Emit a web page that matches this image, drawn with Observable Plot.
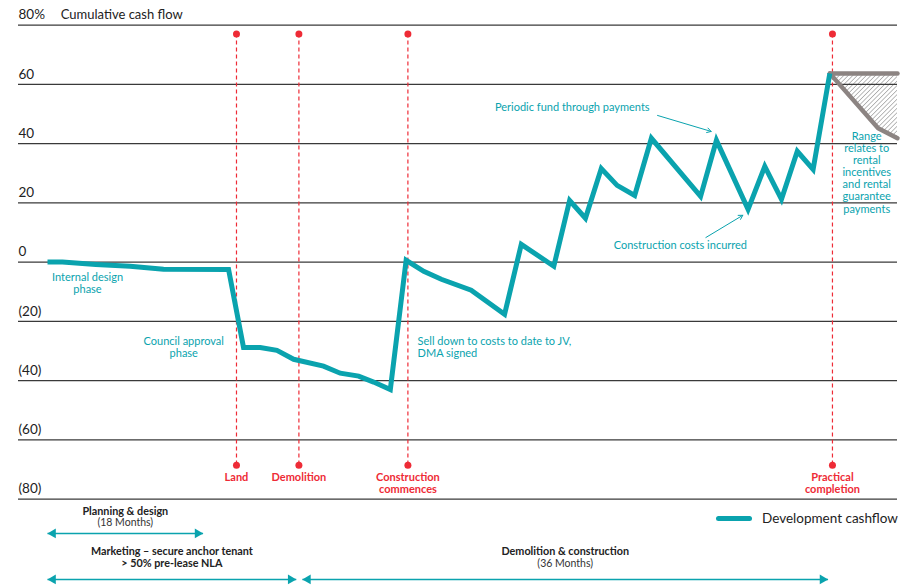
<!DOCTYPE html>
<html><head><meta charset="utf-8">
<script src="https://cdn.jsdelivr.net/npm/d3@7"></script>
<script src="https://cdn.jsdelivr.net/npm/@observablehq/plot@0.6"></script>
<style>
body{margin:0;background:#fff;font-family:Lato,"Open Sans",sans-serif}
#wrap{position:relative;width:911px;height:586px;overflow:hidden}
#legend{position:absolute;left:716px;top:509px;font-size:13.5px;color:#222;display:flex;align-items:center;line-height:18px}
#legend .sw{display:inline-block;width:36px;height:5px;border-radius:3px;background:#0aa3ae;margin-right:10px}
</style>
</head><body><div id="wrap"><div id="legend"><span class="sw"></span><span>Development cashflow</span></div></div><script>
// ---- data ----
// time position (abstract timeline units 0..100) and cumulative cash flow (%)
const timeIdx = [3.3,5.0,8.8,12.7,16.5,23.9,25.6,27.5,29.4,31.3,34.7,36.6,38.7,40.4,42.3,44.1,46.1,48.1,51.5,55.3,57.2,60.9,62.7,64.5,66.3,68.1,70.1,72.0,77.6,79.4,83.0,84.9,86.8,88.6,90.4,92.3];
const cashflow = [0,0,-0.8,-1.4,-2.4,-2.5,-28.8,-28.8,-29.8,-32.8,-35.1,-37.5,-38.5,-40.5,-43,0.6,-3.1,-5.8,-9.5,-17.6,6,-1.4,20.8,14.8,31.6,25.9,22.5,41.8,22.2,41.1,17.8,32.3,21.2,37.4,31.3,63.7];

// range of outcomes after practical completion
const rangeTime = [92.3,97.8,100];
const rangeHigh = [63.7,63.7,63.7];
const rangeLow  = [63.7,45.2,41.8];

// y gridlines and their labels
const gridValues = [80,60,40,20,0,-20,-40,-60,-80];
const gridLabels = ["80%","60","40","20","0","(20)","(40)","(60)","(80)"];

// milestones
const milestoneNames = ["Land","Demolition","Construction\ncommences","Practical\ncompletion"];
const milestoneTime  = [24.8,31.9,44.3,92.6];

// phases shown below the chart
const phaseNames = ["Planning & design","Marketing – secure anchor tenant","Demolition & construction"];
const phaseSub   = ["(18 Months)","> 50% pre-lease NLA","(36 Months)"];
const phaseSubBold = [false,true,false];
const phaseStart = [3.3,3.3,32.3];
const phaseEnd   = [21.0,31.6,92.1];
const phaseRow   = [-91.6,-107.1,-107.1];

// annotations
const noteText = ["Internal design\nphase","Council approval\nphase","Sell down to costs to date to JV,\nDMA signed","Periodic fund through payments","Construction costs incurred","Range\nrelates to\nrental\nincentives\nand rental\nguarantee\npayments"];
const noteTime = [7.85,18.8,45.4,63.0,75.3,96.5];
const noteValue = [-7.2,-28.8,-28.8,52.2,5.6,30.3];
const noteAnchor = ["middle","middle","start","middle","middle","middle"];
const pointerFrom = [[72.7,49.5],[78.2,8.3]];
const pointerTo   = [[78.8,44.1],[82.4,15.8]];

// ---- build ----
const TEAL = "#0aa3ae", RED = "#ee2b36", GRID = "#3a3a3a", RANGE = "#8c8482";
const line = timeIdx.map((t,i)=>({t, v: cashflow[i]}));
const range = rangeTime.map((t,i)=>({t, hi: rangeHigh[i], lo: rangeLow[i]}));
const grid = gridValues.map((v,i)=>({v, label: gridLabels[i]}));
const milestones = milestoneNames.map((name,i)=>({name, t: milestoneTime[i]}));
const phases = phaseNames.map((name,i)=>({row: i, name, sub: phaseSub[i], s: phaseStart[i], e: phaseEnd[i], y: phaseRow[i], subBold: phaseSubBold[i]}));
const notes = noteText.map((text,i)=>({text, t: noteTime[i], v: noteValue[i], anchor: noteAnchor[i]}));
const pointers = pointerFrom.map((f,i)=>({x1:f[0], y1:f[1], x2:pointerTo[i][0], y2:pointerTo[i][1]}));

const TOP_DOT = 77, BOT_DOT = -68.6;
const U = 586 / (88.3 + 109.5); // px per y unit
const nameY = d => d.y + (d.row === 0 ? 22 : 28) / U;
const subY  = d => d.y + (d.row === 0 ? 11 : 16) / U;
const mid = d => (d.s + d.e) / 2;

const chart = Plot.plot({
  width: 911, height: 586,
  marginLeft: 18, marginRight: 14, marginTop: 0, marginBottom: 0,
  x: {domain: [0,100], axis: null},
  y: {domain: [-109.5, 88.3], axis: null},
  style: {fontFamily: "Lato, 'Open Sans', sans-serif", background: "white", overflow: "visible"},
  marks: [
    Plot.areaY(range, {x: "t", y1: "lo", y2: "hi", fill: "url(#hatch)"}),
    Plot.ruleY(grid, {y: "v", x1: 0, x2: 100, stroke: GRID, strokeWidth: 1.3}),
    Plot.text(grid, {x: 0, y: "v", text: "label", textAnchor: "start", dy: -10, fontSize: 13.5, fill: "#222"}),
    Plot.text(["Cumulative cash flow"], {x: 4.8, y: 80, text: d=>d, textAnchor: "start", dy: -10, fontSize: 13, fill: "#222"}),
    Plot.ruleX(milestones, {x: "t", y1: TOP_DOT, y2: BOT_DOT, stroke: RED, strokeWidth: 1.2, strokeDasharray: "4,3"}),
    Plot.dot(milestones, {x: "t", y: TOP_DOT, r: 3.5, fill: RED}),
    Plot.dot(milestones, {x: "t", y: BOT_DOT, r: 3.5, fill: RED}),
    Plot.text(milestones, {x: "t", y: BOT_DOT, text: "name", lineAnchor: "top", dy: 7, fontSize: 11, fontWeight: "bold", fill: RED, lineHeight: 1.08}),
    Plot.line(range, {x: "t", y: "hi", stroke: RANGE, strokeWidth: 4.5, strokeLinecap: "round"}),
    Plot.line(range, {x: "t", y: "lo", stroke: RANGE, strokeWidth: 4.5, strokeLinecap: "round"}),
    Plot.line(line, {x: "t", y: "v", stroke: TEAL, strokeWidth: 5, strokeLinejoin: "miter", strokeMiterlimit: 6, strokeLinecap: "butt"}),
    Plot.text(notes.filter(d=>d.anchor==="middle"), {x: "t", y: "v", text: "text", textAnchor: "middle", fontSize: 11, fill: TEAL, lineHeight: 1.1}),
    Plot.text(notes.filter(d=>d.anchor==="start"), {x: "t", y: "v", text: "text", textAnchor: "start", fontSize: 11, fill: TEAL, lineHeight: 1.1}),
    Plot.arrow(pointers, {x1: "x1", y1: "y1", x2: "x2", y2: "y2", stroke: TEAL, strokeWidth: 1, headLength: 7, bend: false}),
    // phases
    Plot.text(phases, {x: mid, y: nameY, text: "name", fontSize: 10.8, fontWeight: "bold", fill: "#222"}),
    Plot.text(phases.filter(d=>!d.subBold), {x: mid, y: subY, text: "sub", fontSize: 10.5, fill: "#333"}),
    Plot.text(phases.filter(d=>d.subBold), {x: mid, y: subY, text: "sub", fontSize: 10.8, fontWeight: "bold", fill: "#222"}),
    Plot.link(phases, {x1: "s", x2: "e", y1: "y", y2: "y", stroke: TEAL, strokeWidth: 1.5}),
    Plot.dot(phases, {x: "e", y: "y", symbol: "triangle", r: 3.6, rotate: 90, fill: TEAL, dx: -5.5}),
    Plot.dot(phases, {x: "s", y: "y", symbol: "triangle", r: 3.6, rotate: -90, fill: TEAL, dx: 5.5})
  ]
});
// hatch pattern for the range area
const defs = d3.select(chart).insert("defs", ":first-child");
const pat = defs.append("pattern").attr("id", "hatch").attr("patternUnits", "userSpaceOnUse")
  .attr("width", 3.2).attr("height", 3.2).attr("patternTransform", "rotate(45)");
pat.append("rect").attr("width", 3.2).attr("height", 3.2).attr("fill", "white");
pat.append("line").attr("x1", 0).attr("y1", 0).attr("x2", 0).attr("y2", 3.2).attr("stroke", "#8f8f8f").attr("stroke-width", 1.2);
document.getElementById("wrap").appendChild(chart);
</script></body></html>
